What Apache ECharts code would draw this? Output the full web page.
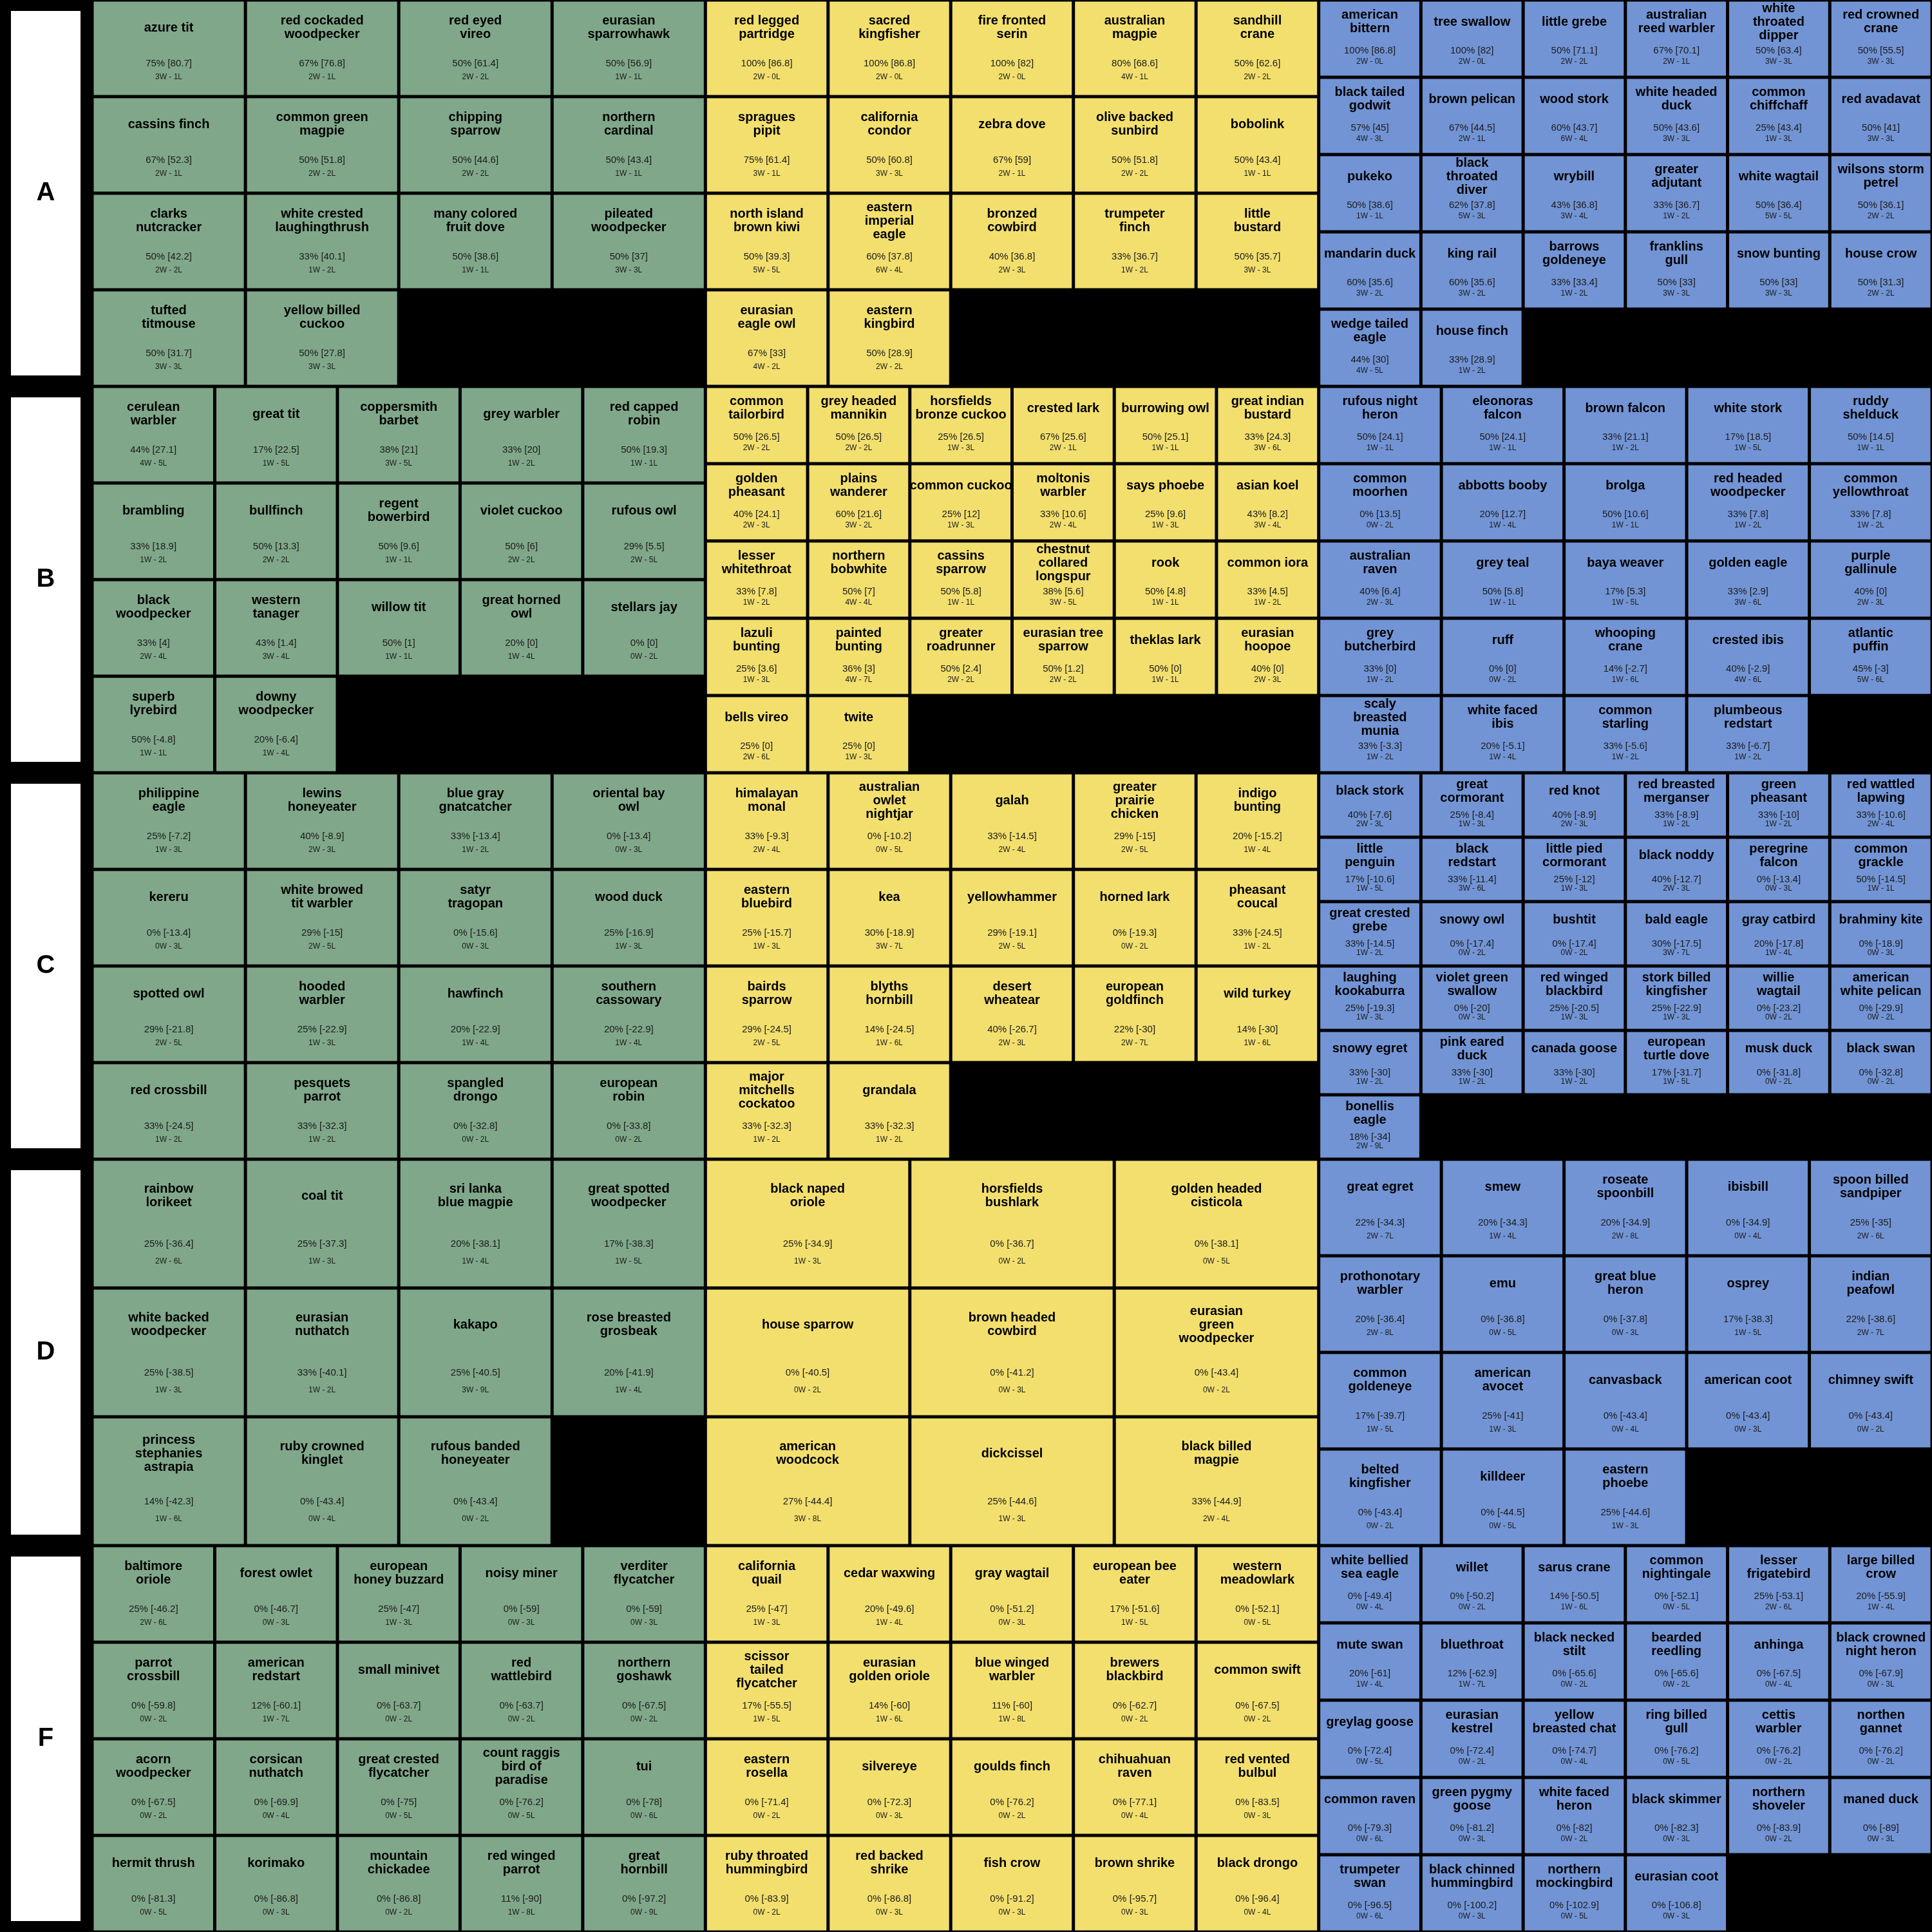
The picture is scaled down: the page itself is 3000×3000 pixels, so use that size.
<!DOCTYPE html>
<html>
<head>
<meta charset="utf-8">
<script src="https://cdn.jsdelivr.net/npm/echarts@6/dist/echarts.min.js"></script>
<style>
html,body{margin:0;padding:0;background:#000;}
#chart{width:3000px;height:3000px;}
</style>
</head>
<body>
<div id="chart"></div>
<script>
// ---------------- DATA ----------------
const tierLabels = ['A', 'B', 'C', 'D', 'F'];

// Tier A  [green, yellow, blue]
const namesA = [
  ['azure tit','red cockaded woodpecker','red eyed vireo','eurasian sparrowhawk','cassins finch','common green magpie','chipping sparrow','northern cardinal','clarks nutcracker','white crested laughingthrush','many colored fruit dove','pileated woodpecker','tufted titmouse','yellow billed cuckoo'],
  ['red legged partridge','sacred kingfisher','fire fronted serin','australian magpie','sandhill crane','spragues pipit','california condor','zebra dove','olive backed sunbird','bobolink','north island brown kiwi','eastern imperial eagle','bronzed cowbird','trumpeter finch','little bustard','eurasian eagle owl','eastern kingbird'],
  ['american bittern','tree swallow','little grebe','australian reed warbler','white throated dipper','red crowned crane','black tailed godwit','brown pelican','wood stork','white headed duck','common chiffchaff','red avadavat','pukeko','black throated diver','wrybill','greater adjutant','white wagtail','wilsons storm petrel','mandarin duck','king rail','barrows goldeneye','franklins gull','snow bunting','house crow','wedge tailed eagle','house finch']
];
const pctA = [
  [75,67,50,50,67,50,50,50,50,33,50,50,50,50],
  [100,100,100,80,50,75,50,67,50,50,50,60,40,33,50,67,50],
  [100,100,50,67,50,50,57,67,60,50,25,50,50,62,43,33,50,50,60,60,33,50,50,50,44,33]
];
const scoreA = [
  [80.7,76.8,61.4,56.9,52.3,51.8,44.6,43.4,42.2,40.1,38.6,37,31.7,27.8],
  [86.8,86.8,82,68.6,62.6,61.4,60.8,59,51.8,43.4,39.3,37.8,36.8,36.7,35.7,33,28.9],
  [86.8,82,71.1,70.1,63.4,55.5,45,44.5,43.7,43.6,43.4,41,38.6,37.8,36.8,36.7,36.4,36.1,35.6,35.6,33.4,33,33,31.3,30,28.9]
];
const winsA = [
  [3,2,2,1,2,2,2,1,2,1,1,3,3,3],
  [2,2,2,4,2,3,3,2,2,1,5,6,2,1,3,4,2],
  [2,2,2,2,3,3,4,2,6,3,1,3,1,5,3,1,5,2,3,3,1,3,3,2,4,1]
];
const lossesA = [
  [1,1,2,1,1,2,2,1,2,2,1,3,3,3],
  [0,0,0,1,2,1,3,1,2,1,5,4,3,2,3,2,2],
  [0,0,2,1,3,3,3,1,4,3,3,3,1,3,4,2,5,2,2,2,2,3,3,2,5,2]
];

// Tier B
const namesB = [
  ['cerulean warbler','great tit','coppersmith barbet','grey warbler','red capped robin','brambling','bullfinch','regent bowerbird','violet cuckoo','rufous owl','black woodpecker','western tanager','willow tit','great horned owl','stellars jay','superb lyrebird','downy woodpecker'],
  ['common tailorbird','grey headed mannikin','horsfields bronze cuckoo','crested lark','burrowing owl','great indian bustard','golden pheasant','plains wanderer','common cuckoo','moltonis warbler','says phoebe','asian koel','lesser whitethroat','northern bobwhite','cassins sparrow','chestnut collared longspur','rook','common iora','lazuli bunting','painted bunting','greater roadrunner','eurasian tree sparrow','theklas lark','eurasian hoopoe','bells vireo','twite'],
  ['rufous night heron','eleonoras falcon','brown falcon','white stork','ruddy shelduck','common moorhen','abbotts booby','brolga','red headed woodpecker','common yellowthroat','australian raven','grey teal','baya weaver','golden eagle','purple gallinule','grey butcherbird','ruff','whooping crane','crested ibis','atlantic puffin','scaly breasted munia','white faced ibis','common starling','plumbeous redstart']
];
const pctB = [
  [44,17,38,33,50,33,50,50,50,29,33,43,50,20,0,50,20],
  [50,50,25,67,50,33,40,60,25,33,25,43,33,50,50,38,50,33,25,36,50,50,50,40,25,25],
  [50,50,33,17,50,0,20,50,33,33,40,50,17,33,40,33,0,14,40,45,33,20,33,33]
];
const scoreB = [
  [27.1,22.5,21,20,19.3,18.9,13.3,9.6,6,5.5,4,1.4,1,0,0,-4.8,-6.4],
  [26.5,26.5,26.5,25.6,25.1,24.3,24.1,21.6,12,10.6,9.6,8.2,7.8,7,5.8,5.6,4.8,4.5,3.6,3,2.4,1.2,0,0,0,0],
  [24.1,24.1,21.1,18.5,14.5,13.5,12.7,10.6,7.8,7.8,6.4,5.8,5.3,2.9,0,0,0,-2.7,-2.9,-3,-3.3,-5.1,-5.6,-6.7]
];
const winsB = [
  [4,1,3,1,1,1,2,1,2,2,2,3,1,1,0,1,1],
  [2,2,1,2,1,3,2,3,1,2,1,3,1,4,1,3,1,1,1,4,2,2,1,2,2,1],
  [1,1,1,1,1,0,1,1,1,1,2,1,1,3,2,1,0,1,4,5,1,1,1,1]
];
const lossesB = [
  [5,5,5,2,1,2,2,1,2,5,4,4,1,4,2,1,4],
  [2,2,3,1,1,6,3,2,3,4,3,4,2,4,1,5,1,2,3,7,2,2,1,3,6,3],
  [1,1,2,5,1,2,4,1,2,2,3,1,5,6,3,2,2,6,6,6,2,4,2,2]
];

// Tier C
const namesC = [
  ['philippine eagle','lewins honeyeater','blue gray gnatcatcher','oriental bay owl','kereru','white browed tit warbler','satyr tragopan','wood duck','spotted owl','hooded warbler','hawfinch','southern cassowary','red crossbill','pesquets parrot','spangled drongo','european robin'],
  ['himalayan monal','australian owlet nightjar','galah','greater prairie chicken','indigo bunting','eastern bluebird','kea','yellowhammer','horned lark','pheasant coucal','bairds sparrow','blyths hornbill','desert wheatear','european goldfinch','wild turkey','major mitchells cockatoo','grandala'],
  ['black stork','great cormorant','red knot','red breasted merganser','green pheasant','red wattled lapwing','little penguin','black redstart','little pied cormorant','black noddy','peregrine falcon','common grackle','great crested grebe','snowy owl','bushtit','bald eagle','gray catbird','brahminy kite','laughing kookaburra','violet green swallow','red winged blackbird','stork billed kingfisher','willie wagtail','american white pelican','snowy egret','pink eared duck','canada goose','european turtle dove','musk duck','black swan','bonellis eagle']
];
const pctC = [
  [25,40,33,0,0,29,0,25,29,25,20,20,33,33,0,0],
  [33,0,33,29,20,25,30,29,0,33,29,14,40,22,14,33,33],
  [40,25,40,33,33,33,17,33,25,40,0,50,33,0,0,30,20,0,25,0,25,25,0,0,33,33,33,17,0,0,18]
];
const scoreC = [
  [-7.2,-8.9,-13.4,-13.4,-13.4,-15,-15.6,-16.9,-21.8,-22.9,-22.9,-22.9,-24.5,-32.3,-32.8,-33.8],
  [-9.3,-10.2,-14.5,-15,-15.2,-15.7,-18.9,-19.1,-19.3,-24.5,-24.5,-24.5,-26.7,-30,-30,-32.3,-32.3],
  [-7.6,-8.4,-8.9,-8.9,-10,-10.6,-10.6,-11.4,-12,-12.7,-13.4,-14.5,-14.5,-17.4,-17.4,-17.5,-17.8,-18.9,-19.3,-20,-20.5,-22.9,-23.2,-29.9,-30,-30,-30,-31.7,-31.8,-32.8,-34]
];
const winsC = [
  [1,2,1,0,0,2,0,1,2,1,1,1,1,1,0,0],
  [2,0,2,2,1,1,3,2,0,1,2,1,2,2,1,1,1],
  [2,1,2,1,1,2,1,3,1,2,0,1,1,0,0,3,1,0,1,0,1,1,0,0,1,1,1,1,0,0,2]
];
const lossesC = [
  [3,3,2,3,3,5,3,3,5,3,4,4,2,2,2,2],
  [4,5,4,5,4,3,7,5,2,2,5,6,3,7,6,2,2],
  [3,3,3,2,2,4,5,6,3,3,3,1,2,2,2,7,4,3,3,3,3,3,2,2,2,2,2,5,2,2,9]
];

// Tier D
const namesD = [
  ['rainbow lorikeet','coal tit','sri lanka blue magpie','great spotted woodpecker','white backed woodpecker','eurasian nuthatch','kakapo','rose breasted grosbeak','princess stephanies astrapia','ruby crowned kinglet','rufous banded honeyeater'],
  ['black naped oriole','horsfields bushlark','golden headed cisticola','house sparrow','brown headed cowbird','eurasian green woodpecker','american woodcock','dickcissel','black billed magpie'],
  ['great egret','smew','roseate spoonbill','ibisbill','spoon billed sandpiper','prothonotary warbler','emu','great blue heron','osprey','indian peafowl','common goldeneye','american avocet','canvasback','american coot','chimney swift','belted kingfisher','killdeer','eastern phoebe']
];
const pctD = [
  [25,25,20,17,25,33,25,20,14,0,0],
  [25,0,0,0,0,0,27,25,33],
  [22,20,20,0,25,20,0,0,17,22,17,25,0,0,0,0,0,25]
];
const scoreD = [
  [-36.4,-37.3,-38.1,-38.3,-38.5,-40.1,-40.5,-41.9,-42.3,-43.4,-43.4],
  [-34.9,-36.7,-38.1,-40.5,-41.2,-43.4,-44.4,-44.6,-44.9],
  [-34.3,-34.3,-34.9,-34.9,-35,-36.4,-36.8,-37.8,-38.3,-38.6,-39.7,-41,-43.4,-43.4,-43.4,-43.4,-44.5,-44.6]
];
const winsD = [
  [2,1,1,1,1,1,3,1,1,0,0],
  [1,0,0,0,0,0,3,1,2],
  [2,1,2,0,2,2,0,0,1,2,1,1,0,0,0,0,0,1]
];
const lossesD = [
  [6,3,4,5,3,2,9,4,6,4,2],
  [3,2,5,2,3,2,8,3,4],
  [7,4,8,4,6,8,5,3,5,7,5,3,4,3,2,2,5,3]
];

// Tier F
const namesF = [
  ['baltimore oriole','forest owlet','european honey buzzard','noisy miner','verditer flycatcher','parrot crossbill','american redstart','small minivet','red wattlebird','northern goshawk','acorn woodpecker','corsican nuthatch','great crested flycatcher','count raggis bird of paradise','tui','hermit thrush','korimako','mountain chickadee','red winged parrot','great hornbill'],
  ['california quail','cedar waxwing','gray wagtail','european bee eater','western meadowlark','scissor tailed flycatcher','eurasian golden oriole','blue winged warbler','brewers blackbird','common swift','eastern rosella','silvereye','goulds finch','chihuahuan raven','red vented bulbul','ruby throated hummingbird','red backed shrike','fish crow','brown shrike','black drongo'],
  ['white bellied sea eagle','willet','sarus crane','common nightingale','lesser frigatebird','large billed crow','mute swan','bluethroat','black necked stilt','bearded reedling','anhinga','black crowned night heron','greylag goose','eurasian kestrel','yellow breasted chat','ring billed gull','cettis warbler','northen gannet','common raven','green pygmy goose','white faced heron','black skimmer','northern shoveler','maned duck','trumpeter swan','black chinned hummingbird','northern mockingbird','eurasian coot']
];
const pctF = [
  [25,0,25,0,0,0,12,0,0,0,0,0,0,0,0,0,0,0,11,0],
  [25,20,0,17,0,17,14,11,0,0,0,0,0,0,0,0,0,0,0,0],
  [0,0,14,0,25,20,20,12,0,0,0,0,0,0,0,0,0,0,0,0,0,0,0,0,0,0,0,0]
];
const scoreF = [
  [-46.2,-46.7,-47,-59,-59,-59.8,-60.1,-63.7,-63.7,-67.5,-67.5,-69.9,-75,-76.2,-78,-81.3,-86.8,-86.8,-90,-97.2],
  [-47,-49.6,-51.2,-51.6,-52.1,-55.5,-60,-60,-62.7,-67.5,-71.4,-72.3,-76.2,-77.1,-83.5,-83.9,-86.8,-91.2,-95.7,-96.4],
  [-49.4,-50.2,-50.5,-52.1,-53.1,-55.9,-61,-62.9,-65.6,-65.6,-67.5,-67.9,-72.4,-72.4,-74.7,-76.2,-76.2,-76.2,-79.3,-81.2,-82,-82.3,-83.9,-89,-96.5,-100.2,-102.9,-106.8]
];
const winsF = [
  [2,0,1,0,0,0,1,0,0,0,0,0,0,0,0,0,0,0,1,0],
  [1,1,0,1,0,1,1,1,0,0,0,0,0,0,0,0,0,0,0,0],
  [0,0,1,0,2,1,1,1,0,0,0,0,0,0,0,0,0,0,0,0,0,0,0,0,0,0,0,0]
];
const lossesF = [
  [6,3,3,3,3,2,7,2,2,2,2,4,5,5,6,5,3,2,8,9],
  [3,4,3,5,5,5,6,8,2,2,2,3,2,4,3,2,3,3,3,4],
  [4,2,6,5,6,4,4,7,2,2,4,3,5,2,4,5,2,2,6,3,2,3,2,3,6,3,5,3]
];

// ---------------- LAYOUT / STYLE ----------------
const groupColors = ['#80a78a', '#f2df6e', '#7294d4'];
const FONT = '"Liberation Sans", Arial, Helvetica, sans-serif';
const LABEL_COL_PX = 143;
const GROUP_PX = (3000 - LABEL_COL_PX) / 3;
const X_MIN = -LABEL_COL_PX / GROUP_PX;

const tiersData = [
  [namesA, pctA, scoreA, winsA, lossesA],
  [namesB, pctB, scoreB, winsB, lossesB],
  [namesC, pctC, scoreC, winsC, lossesC],
  [namesD, pctD, scoreD, winsD, lossesD],
  [namesF, pctF, scoreF, winsF, lossesF]
];

function wrapName(s, width) {
  const words = s.split(' ');
  const lines = [];
  let cur = '';
  for (const w of words) {
    if (cur === '') cur = w;
    else if ((cur + ' ' + w).length <= width) cur += ' ' + w;
    else { lines.push(cur); cur = w; }
  }
  if (cur) lines.push(cur);
  return lines.join('\n');
}

const cellData = [];
const cellMeta = [];
tiersData.forEach((arrs, t) => {
  const [nm, pc, sc, wi, lo] = arrs;
  for (let g = 0; g < 3; g++) {
    const n = nm[g].length;
    const ncols = Math.ceil(Math.sqrt(n));
    const nrows = Math.ceil(n / ncols);
    for (let i = 0; i < n; i++) {
      const col = i % ncols, row = Math.floor(i / ncols);
      cellData.push([g + col / ncols, t + row / nrows, g + (col + 1) / ncols, t + (row + 1) / nrows, g]);
      cellMeta.push({
        name: wrapName(nm[g][i], 13),
        pct: pc[g][i] + '% [' + sc[g][i] + ']',
        wl: wi[g][i] + 'W - ' + lo[g][i] + 'L'
      });
    }
  }
});

function renderCell(params, api) {
  const p0 = api.coord([api.value(0), api.value(1)]);
  const p1 = api.coord([api.value(2), api.value(3)]);
  const g = api.value(4);
  const m = cellMeta[params.dataIndex];
  const w = p1[0] - p0[0], h = p1[1] - p0[1];
  const cx = p0[0] + w / 2;
  return {
    type: 'group',
    children: [
      { type: 'rect', shape: { x: p0[0] + 2.5, y: p0[1] + 2.5, width: w - 5, height: h - 5 },
        style: { fill: groupColors[g], stroke: null } },
      { type: 'text', x: cx, y: p0[1] + 0.287 * h,
        style: { text: m.name, fill: '#000', fontFamily: FONT, fontWeight: 'bold', fontSize: 20,
                 lineHeight: 21, align: 'center', verticalAlign: 'middle' } },
      { type: 'text', x: cx, y: p0[1] + 0.66 * h,
        style: { text: m.pct, fill: '#1a1a1a', fontFamily: FONT, fontSize: 15,
                 align: 'center', verticalAlign: 'middle' } },
      { type: 'text', x: cx, y: p0[1] + 0.795 * h,
        style: { text: m.wl, fill: '#1a1a1a', fontFamily: FONT, fontSize: 12,
                 align: 'center', verticalAlign: 'middle' } }
    ]
  };
}

function renderTier(params, api) {
  const t = api.value(0);
  const p0 = api.coord([X_MIN, t]);
  const p1 = api.coord([0, t + 1]);
  const w = p1[0] - p0[0], h = p1[1] - p0[1];
  return {
    type: 'group',
    children: [
      { type: 'rect', shape: { x: p0[0] + 17, y: p0[1] + 17, width: w - 35, height: h - 34 },
        style: { fill: '#ffffff' } },
      { type: 'text', x: p0[0] + 17 + (w - 35) / 2, y: p0[1] + h / 2,
        style: { text: tierLabels[t], fill: '#000', fontFamily: FONT, fontWeight: 'bold', fontSize: 40,
                 align: 'center', verticalAlign: 'middle' } }
    ]
  };
}

const chart = echarts.init(document.getElementById('chart'), null, { renderer: 'canvas' });
chart.setOption({
  backgroundColor: '#000000',
  animation: false,
  grid: { left: 0, right: 0, top: 0, bottom: 0 },
  xAxis: { type: 'value', min: X_MIN, max: 3, show: false, splitLine: { show: false } },
  yAxis: { type: 'value', min: 0, max: 5, inverse: true, show: false, splitLine: { show: false } },
  series: [
    { type: 'custom', renderItem: renderTier, data: tierLabels.map((_, i) => [i]),
      encode: { x: [], y: 0 }, silent: true },
    { type: 'custom', renderItem: renderCell, data: cellData,
      encode: { x: [0, 2], y: [1, 3] }, silent: true }
  ]
});
</script>
</body>
</html>
